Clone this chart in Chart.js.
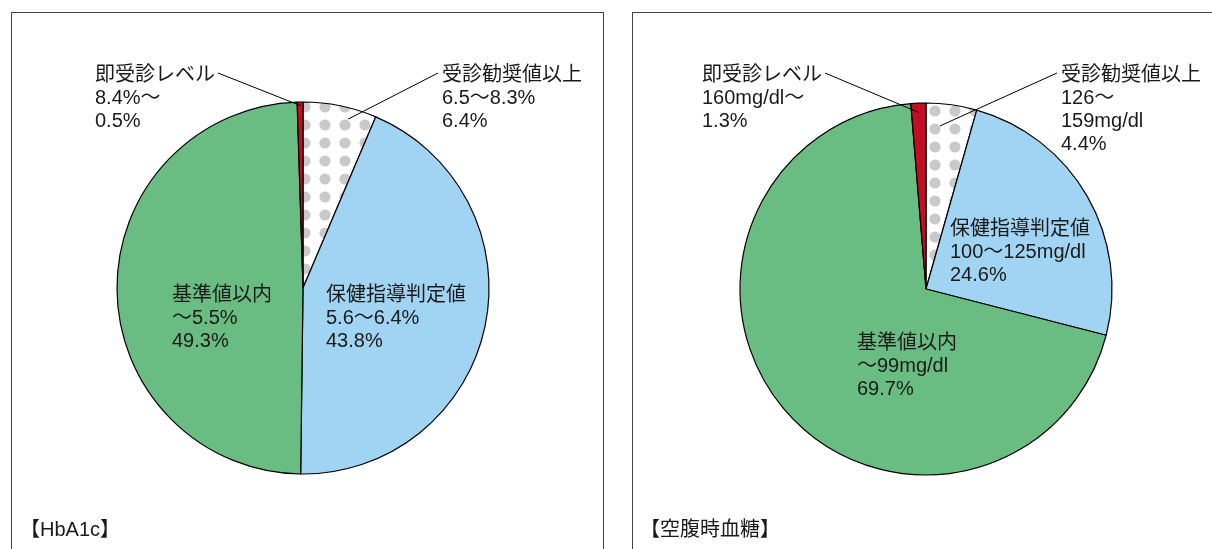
<!DOCTYPE html>
<html>
<head>
<meta charset="utf-8">
<script src="https://cdn.jsdelivr.net/npm/chart.js@4"></script>
<style>
  body { margin: 0; background: #fff; width: 1212px; height: 549px; overflow: hidden; position: relative; }
  .box { position: absolute; top: 12px; height: 600px; border: 1px solid #444; }
  #boxA { left: 11px; width: 591px; }
  #boxB { left: 632px; width: 620px; }
  canvas { position: absolute; top: 0; }
</style>
</head>
<body>
<div class="box" id="boxA"></div>
<div class="box" id="boxB"></div>
<canvas id="hba1c" width="606" height="549" style="left:0"></canvas>
<canvas id="glucose" width="606" height="549" style="left:606px"></canvas>
<script>
// slices go clockwise from 12 o'clock
var categories = ['受診勧奨値以上', '保健指導判定値', '基準値以内', '即受診レベル'];
var chartTitles = ['【HbA1c】', '【空腹時血糖】'];

var hba1cValues = [6.4, 43.8, 49.3, 0.5];
var hba1cRanges = [['6.5～8.3%'], ['5.6～6.4%'], ['～5.5%'], ['8.4%～']];

var glucoseValues = [4.4, 24.6, 69.7, 1.3];
var glucoseRanges = [['126～', '159mg/dl'], ['100～125mg/dl'], ['～99mg/dl'], ['160mg/dl～']];

var FONT = '20px "Liberation Sans", "Noto Sans CJK JP", sans-serif';
var LINE_H = 23;

function dotPattern(ctx, ox, oy) {
    var tile = document.createElement('canvas');
    tile.width = 20;
    tile.height = 36;
    var t = tile.getContext('2d');
    t.fillStyle = '#fff';
    t.fillRect(0, 0, 20, 36);
    t.fillStyle = '#c9c9c9';
    [9, 27].forEach(function (cy) {
        t.beginPath();
        t.arc(10, cy, 5.6, 0, Math.PI * 2);
        t.fill();
    });
    var p = ctx.createPattern(tile, 'repeat');
    p.setTransform(new DOMMatrix().translate(ox, oy));
    return p;
}

var sliceLabels = {
    id: 'sliceLabels',
    afterDatasetsDraw: function (chart, args, opts) {
        var ctx = chart.ctx;
        var arcs = chart.getDatasetMeta(0).data;
        var values = chart.data.datasets[0].data;
        ctx.save();
        ctx.font = FONT;
        ctx.fillStyle = '#1a1a1a';
        ctx.textBaseline = 'alphabetic';
        opts.layout.forEach(function (pos, i) {
            var lines = [categories[i]].concat(opts.ranges[i]).concat([values[i].toFixed(1) + '%']);
            lines.forEach(function (txt, k) {
                ctx.fillText(txt, pos.x, pos.y + k * LINE_H);
            });
            if (pos.leader) {
                var arc = arcs[i];
                var a = arc.startAngle + pos.leader.frac * (arc.endAngle - arc.startAngle);
                var ex = arc.x + Math.cos(a) * arc.outerRadius * pos.leader.rf;
                var ey = arc.y + Math.sin(a) * arc.outerRadius * pos.leader.rf;
                var sx = pos.leader.side === 'right' ? pos.x + ctx.measureText(lines[0]).width + 3 : pos.x - 4;
                var sy = pos.y - 8;
                ctx.strokeStyle = '#000';
                ctx.lineWidth = 1;
                ctx.beginPath();
                ctx.moveTo(sx, sy);
                ctx.lineTo(ex, ey);
                ctx.stroke();
            }
        });
        ctx.fillText(opts.title, opts.titlePos.x, opts.titlePos.y);
        ctx.restore();
    }
};

function makePie(id, values, ranges, title, layout, titlePos, padding, dotOffset) {
    var ctx = document.getElementById(id).getContext('2d');
    return new Chart(ctx, {
        type: 'pie',
        data: {
            labels: categories,
            datasets: [{
                data: values,
                backgroundColor: [dotPattern(ctx, dotOffset[0], dotOffset[1]), '#a0d4f2', '#6abd82', '#c30d23'],
                borderColor: '#000',
                borderWidth: 1.2,
                radius: 186
            }]
        },
        options: {
            responsive: false,
            animation: false,
            events: [],
            layout: { padding: padding },
            plugins: {
                legend: { display: false },
                tooltip: { enabled: false },
                sliceLabels: { ranges: ranges, layout: layout, title: title, titlePos: titlePos }
            }
        },
        plugins: [sliceLabels]
    });
}

makePie('hba1c', hba1cValues, hba1cRanges, chartTitles[0], [
    { x: 442, y: 81, leader: { frac: 0.65, rf: 0.94, side: 'left' } },
    { x: 326, y: 301 },
    { x: 172, y: 301 },
    { x: 95, y: 81, leader: { frac: 0.6, rf: 0.98, side: 'right' } }
], { x: 20, y: 536 }, { left: 118, right: 118, top: 103, bottom: 76 }, [295, 98]);

makePie('glucose', glucoseValues, glucoseRanges, chartTitles[1], [
    { x: 455, y: 81, leader: { frac: 0.31, rf: 0.88, side: 'left' } },
    { x: 344, y: 235 },
    { x: 251, y: 349 },
    { x: 96, y: 81, leader: { frac: 0.5, rf: 0.95, side: 'right' } }
], { x: 34, y: 536 }, { left: 135, right: 101, top: 104, bottom: 75 }, [319, 102]);
</script>
</body>
</html>
